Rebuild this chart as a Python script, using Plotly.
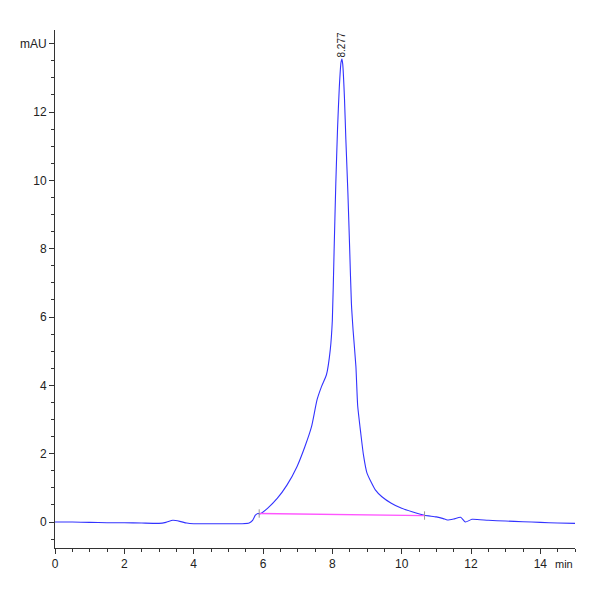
import plotly.graph_objects as go

# chromatogram trace (min, mAU)
time_min = [0.0, 0.5, 1.0, 1.5, 2.0, 2.5, 3.0, 3.2, 3.4, 3.6, 3.8, 4.0, 4.5, 5.0,
            5.4, 5.6, 5.7, 5.78, 5.85, 5.92, 6.13, 6.41, 6.69, 6.98, 7.21, 7.40,
            7.56, 7.69, 7.83, 7.94, 8.0, 8.05, 8.1, 8.15, 8.2, 8.25, 8.277, 8.3,
            8.35, 8.39, 8.45, 8.5, 8.55, 8.6, 8.68, 8.73, 8.82, 8.9, 9.0, 9.24,
            9.43, 9.7, 10.0, 10.3, 10.66, 11.0, 11.2, 11.32, 11.5, 11.7, 11.84,
            12.03, 12.5, 13.0, 13.5, 14.0, 14.5, 15.0]
signal_mau = [0.0, 0.0, -0.01, -0.02, -0.02, -0.03, -0.04, -0.01, 0.05, 0.02, -0.03,
              -0.05, -0.05, -0.05, -0.05, -0.03, 0.05, 0.2, 0.25, 0.24, 0.40, 0.69,
              1.08, 1.62, 2.21, 2.79, 3.58, 3.97, 4.31, 5.04, 5.9, 7.9, 9.9, 11.5,
              12.7, 13.45, 13.55, 13.4, 12.4, 11.2, 9.6, 8.0, 6.4, 5.6, 4.55, 3.42,
              2.6, 1.95, 1.43, 0.94, 0.74, 0.55, 0.40, 0.30, 0.20, 0.15, 0.10, 0.06,
              0.09, 0.14, 0.0, 0.08, 0.05, 0.03, 0.01, -0.01, -0.03, -0.04]

# integration baseline
base_time = [5.89, 10.66]
base_signal = [0.25, 0.19]

peak_rt = 8.277
peak_height = 13.55

x_ticks = [0, 2, 4, 6, 8, 10, 12, 14]
y_ticks = [0, 2, 4, 6, 8, 10, 12, 14]
y_ticktext = ["0", "2", "4", "6", "8", "10", "12", "mAU"]

font = "Liberation Sans Narrow, Liberation Sans, Arial, sans-serif"

fig = go.Figure()
fig.add_trace(go.Scatter(x=time_min, y=signal_mau, mode="lines",
                         line=dict(color="#3333ff", width=1.1,
                                   shape="spline", smoothing=0.5)))
fig.add_trace(go.Scatter(x=base_time, y=base_signal, mode="lines+markers",
                         line=dict(color="#ff55ff", width=1.3),
                         marker=dict(symbol="line-ns", size=6,
                                     line=dict(color="#999999", width=1))))

fig.add_annotation(x=peak_rt, y=peak_height, text=str(peak_rt), showarrow=False,
                   textangle=-90, xanchor="center", yanchor="bottom",
                   font=dict(family=font, size=10, color="#222222"))
fig.add_annotation(x=15, y=0, xref="x", yref="paper", text="min", showarrow=False,
                   xanchor="right", yanchor="top", yshift=-8,
                   font=dict(family=font, size=11, color="#222222"))

# page body adds ~8px, so margins are offset to land the axes where the reference has them
fig.update_layout(
    width=600, height=600,
    margin=dict(l=39, r=33, t=22, b=60),
    plot_bgcolor="white", paper_bgcolor="white",
    showlegend=False,
    font=dict(family=font, size=12, color="#222222"),
)
fig.update_xaxes(range=[0, 15], tickvals=x_ticks, showgrid=False, zeroline=False,
                 showline=True, linecolor="#333333", linewidth=1,
                 ticks="outside", ticklen=5, tickcolor="#333333",
                 minor=dict(dtick=0.5, ticks="outside", ticklen=3, tickcolor="#333333"))
fig.update_yaxes(range=[-0.76, 14.4], tickvals=y_ticks, ticktext=y_ticktext,
                 showgrid=False, zeroline=False,
                 showline=True, linecolor="#333333", linewidth=1,
                 ticks="outside", ticklen=5, tickcolor="#333333",
                 minor=dict(dtick=0.5, ticks="outside", ticklen=3, tickcolor="#333333"))

fig.write_html("out.html")
